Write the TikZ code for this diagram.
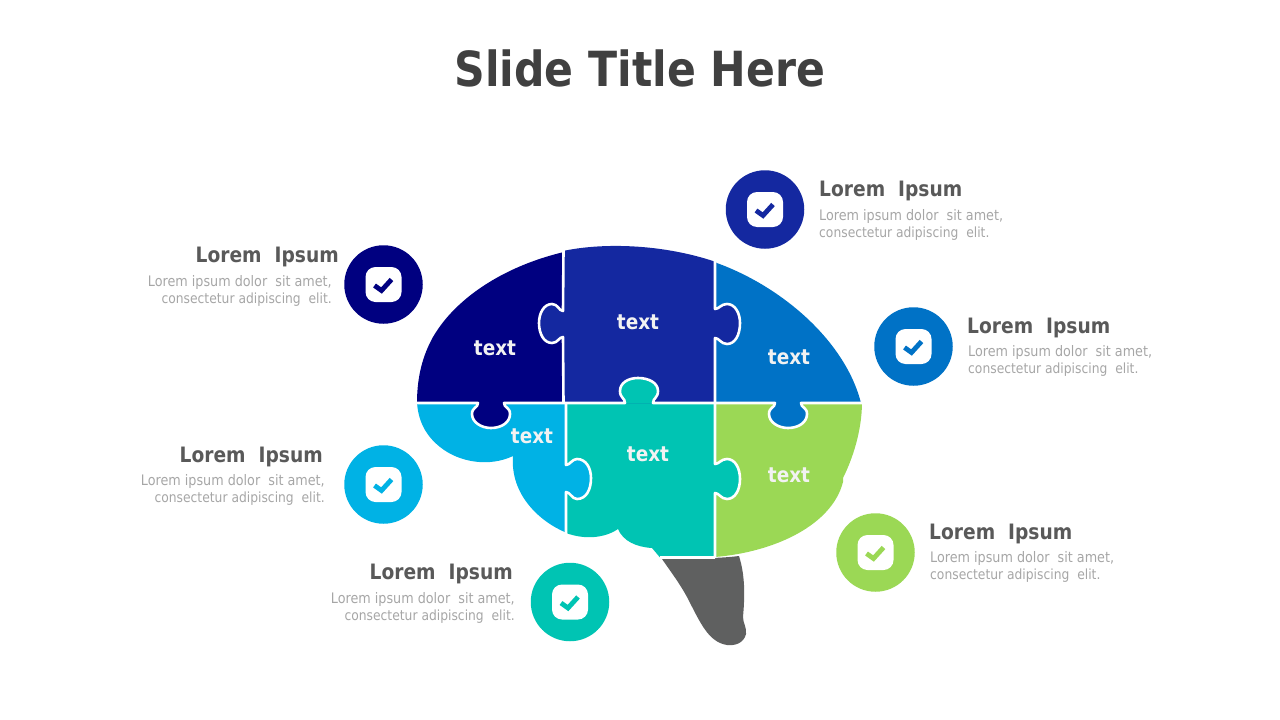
\documentclass[tikz,border=0pt]{standalone}
\usepackage{fontspec}
\setmainfont{DejaVu Sans}[FakeStretch=0.88]
\definecolor{cNavy}{HTML}{000080}
\definecolor{cBlue}{HTML}{1428A0}
\definecolor{cMid}{HTML}{0072C6}
\definecolor{cCyan}{HTML}{00B2E5}
\definecolor{cTeal}{HTML}{00C4B3}
\definecolor{cGreen}{HTML}{9BD855}
\definecolor{cGrey}{HTML}{5F6060}
\definecolor{cTitle}{HTML}{404040}
\definecolor{cHead}{HTML}{595959}
\definecolor{cBody}{HTML}{A6A6A6}
\tikzset{
  seam/.style={draw=white,line width=2.6pt,line join=round},
  titletext/.style={font=\fontsize{48.4}{54}\selectfont\bfseries,text=cTitle,inner sep=0pt},
  headtext/.style={font=\fontsize{21.2}{24}\selectfont\bfseries,text=cHead,inner sep=0pt},
  bodytext/.style={font=\fontsize{14.5}{17}\selectfont,text=cBody,inner sep=0pt},
  piecetext/.style={font=\fontsize{21}{24}\selectfont\bfseries,text=white!95!black,inner sep=0pt},
  disc/.style={circle,minimum size=78.5pt,inner sep=0pt},
  plate/.style={fill=white,rounded corners=10pt,minimum width=36pt,minimum height=35pt,inner sep=0pt},
  tick/.style={line width=4.8pt,line cap=butt,line join=miter}
}
% puzzle tabs
\def\tabNavyBlue{(563,311) .. controls (559,311) and (558,304) .. (552,304) .. controls (544,304) and (539,313) .. (539,323) .. controls (539,334) and (544,343) .. (552,343) .. controls (558,343) and (559,337) .. (563,337)}
\def\tabBlueMid{(715,309) .. controls (719,309) and (721,304) .. (727,304) .. controls (735,304) and (740,313) .. (740,323) .. controls (740,335) and (735,344) .. (727,344) .. controls (721,344) and (719,338) .. (715,338)}
\def\tabTealGreen{(715,464) .. controls (719,464) and (721,459) .. (727,459) .. controls (735,459) and (740,468) .. (740,479) .. controls (740,490) and (735,499) .. (727,499) .. controls (721,499) and (719,493) .. (715,493)}
\def\tabCyanTeal{(566,465) .. controls (570,465) and (572,459) .. (577,459) .. controls (586,459) and (591,468) .. (591,478) .. controls (591,490) and (586,499) .. (577,499) .. controls (572,499) and (570,492) .. (566,492)}
\def\tabNavyCyan{(478,403) .. controls (478,408) and (472,407) .. (472,414) .. controls (472,422) and (481,428) .. (491,428) .. controls (502,428) and (510,422) .. (510,414) .. controls (510,407) and (504,408) .. (504,403)}
\def\tabMidGreen{(775,403) .. controls (775,408) and (769,407) .. (769,414) .. controls (769,422) and (778,428) .. (788,428) .. controls (799,428) and (807,422) .. (807,414) .. controls (807,407) and (801,408) .. (801,403)}
\def\tabTealBlue{(625,403) .. controls (625,398) and (620,398) .. (620,391) .. controls (620,383) and (628,378) .. (638,378) .. controls (649,378) and (658,383) .. (658,391) .. controls (658,398) and (653,398) .. (653,403)}
\newcommand{\badge}[4]{%
  \node[disc,fill=#2] (#1) at (#3,#4) {};
  \node[plate] (#1p) at (#3,#4) {};
  \draw[tick,draw=#2] ($(#1)+(-9,1)$) -- ($(#1)+(-2,6)$) -- ($(#1)+(8,-5)$);
}
\newcommand{\bodylines}{Lorem ipsum dolor\ \ sit amet,\\{\fontsize{14}{17}\selectfont consectetur adipiscing\ \ elit.}}
\usetikzlibrary{calc}
\begin{document}
\begin{tikzpicture}[x=1pt,y=-1pt]
\useasboundingbox (0,0) rectangle (1280,720);
\node[titletext] (title) at (640,68) {Slide Title Here};

% stem
\fill[cGrey] (662,559) .. controls (690,558) and (715,559) .. (739,556)
  .. controls (745,575) and (745,595) .. (743,617)
  .. controls (743,623) and (747,628) .. (746,634)
  .. controls (744,643) and (735,646) .. (727,645)
  .. controls (708,642) and (700,622) .. (687,597)
  .. controls (680,584) and (671,572) .. (662,559) -- cycle;

% piece bodies
\fill[cGreen] (715,402) -- (862,402) .. controls (862,430) and (853,458) .. (843,478)
  .. controls (843,480) and (843,481) .. (843,482)
  .. controls (832,525) and (775,552) .. (715,557) -- cycle;
\fill[cTeal] (566,402) -- (716,402) -- (716,557.5) -- (660,557.5) -- (652,548)
  .. controls (636,547) and (623,541) .. (618,529)
  .. controls (605,538) and (585,540) .. (566,533) -- cycle;
\fill[cCyan] (417,402) -- (567,402) -- (567,533)
  .. controls (540,522) and (510,495) .. (513,456)
  .. controls (490,467) and (460,463) .. (440,447)
  .. controls (425,435) and (418,420) .. (417,402) -- cycle;
\fill[cMid] (714,262) .. controls (780,285) and (845,340) .. (861,403) -- (714,403) -- cycle;
\fill[cNavy] (417,403) .. controls (417,376) and (423,355) .. (433,337)
  .. controls (443,320) and (455,308) .. (467,298)
  .. controls (495,275) and (530,260) .. (564,252) -- (564,403) -- cycle;
\fill[cBlue] (563,251) .. controls (600,243) and (660,243) .. (716,262) -- (716,403) -- (563,403) -- cycle;

% tabs
\fill[cBlue] \tabNavyBlue -- cycle;
\fill[cBlue] \tabBlueMid -- cycle;
\fill[cTeal] \tabTealGreen -- cycle;
\fill[cCyan] \tabCyanTeal -- cycle;
\fill[cNavy] \tabNavyCyan -- cycle;
\fill[cMid] \tabMidGreen -- cycle;
\fill[cTeal] \tabTealBlue -- cycle;

% seams
\draw[seam] (563.5,250) -- \tabNavyBlue -- (563.5,403);
\draw[seam] (715,260) -- \tabBlueMid -- (715,403) -- \tabTealGreen -- (715,558);
\draw[seam] (566,403) -- \tabCyanTeal -- (566,534);
\draw[seam] (416,403) -- \tabNavyCyan -- \tabTealBlue -- \tabMidGreen -- (863,403);
\draw[seam] (660,557.5) -- (715,557.5);

% piece labels
\node[piecetext] (t1) at (495,348) {text};
\node[piecetext] (t2) at (638,322) {text};
\node[piecetext] (t3) at (789,357) {text};
\node[piecetext] (t4) at (532,436) {text};
\node[piecetext] (t5) at (648,454) {text};
\node[piecetext] (t6) at (789,475) {text};

% badges
\badge{bNavy}{cNavy}{383.5}{284.5}
\badge{bBlue}{cBlue}{765}{209.5}
\badge{bMid}{cMid}{913.5}{346.5}
\badge{bCyan}{cCyan}{383.5}{484.5}
\badge{bTeal}{cTeal}{570}{602}
\badge{bGreen}{cGreen}{875.5}{552.5}

% captions
\node[headtext,anchor=west] (h2) at (819,191) {Lorem\ \ Ipsum};
\node[bodytext,anchor=west,align=left] (d2) at (819,224.5) {\bodylines};
\node[headtext,anchor=west] (h3) at (967,328) {Lorem\ \ Ipsum};
\node[bodytext,anchor=west,align=left] (d3) at (968,360.5) {\bodylines};
\node[headtext,anchor=west] (h6) at (929,534) {Lorem\ \ Ipsum};
\node[bodytext,anchor=west,align=left] (d6) at (930,566.5) {\bodylines};
\node[headtext,anchor=east] (h1) at (339,257) {Lorem\ \ Ipsum};
\node[bodytext,anchor=east,align=right] (d1) at (332,290.5) {\bodylines};
\node[headtext,anchor=east] (h4) at (323,457) {Lorem\ \ Ipsum};
\node[bodytext,anchor=east,align=right] (d4) at (325,489.5) {\bodylines};
\node[headtext,anchor=east] (h5) at (513,574) {Lorem\ \ Ipsum};
\node[bodytext,anchor=east,align=right] (d5) at (515,607.5) {\bodylines};
\end{tikzpicture}
\end{document}
